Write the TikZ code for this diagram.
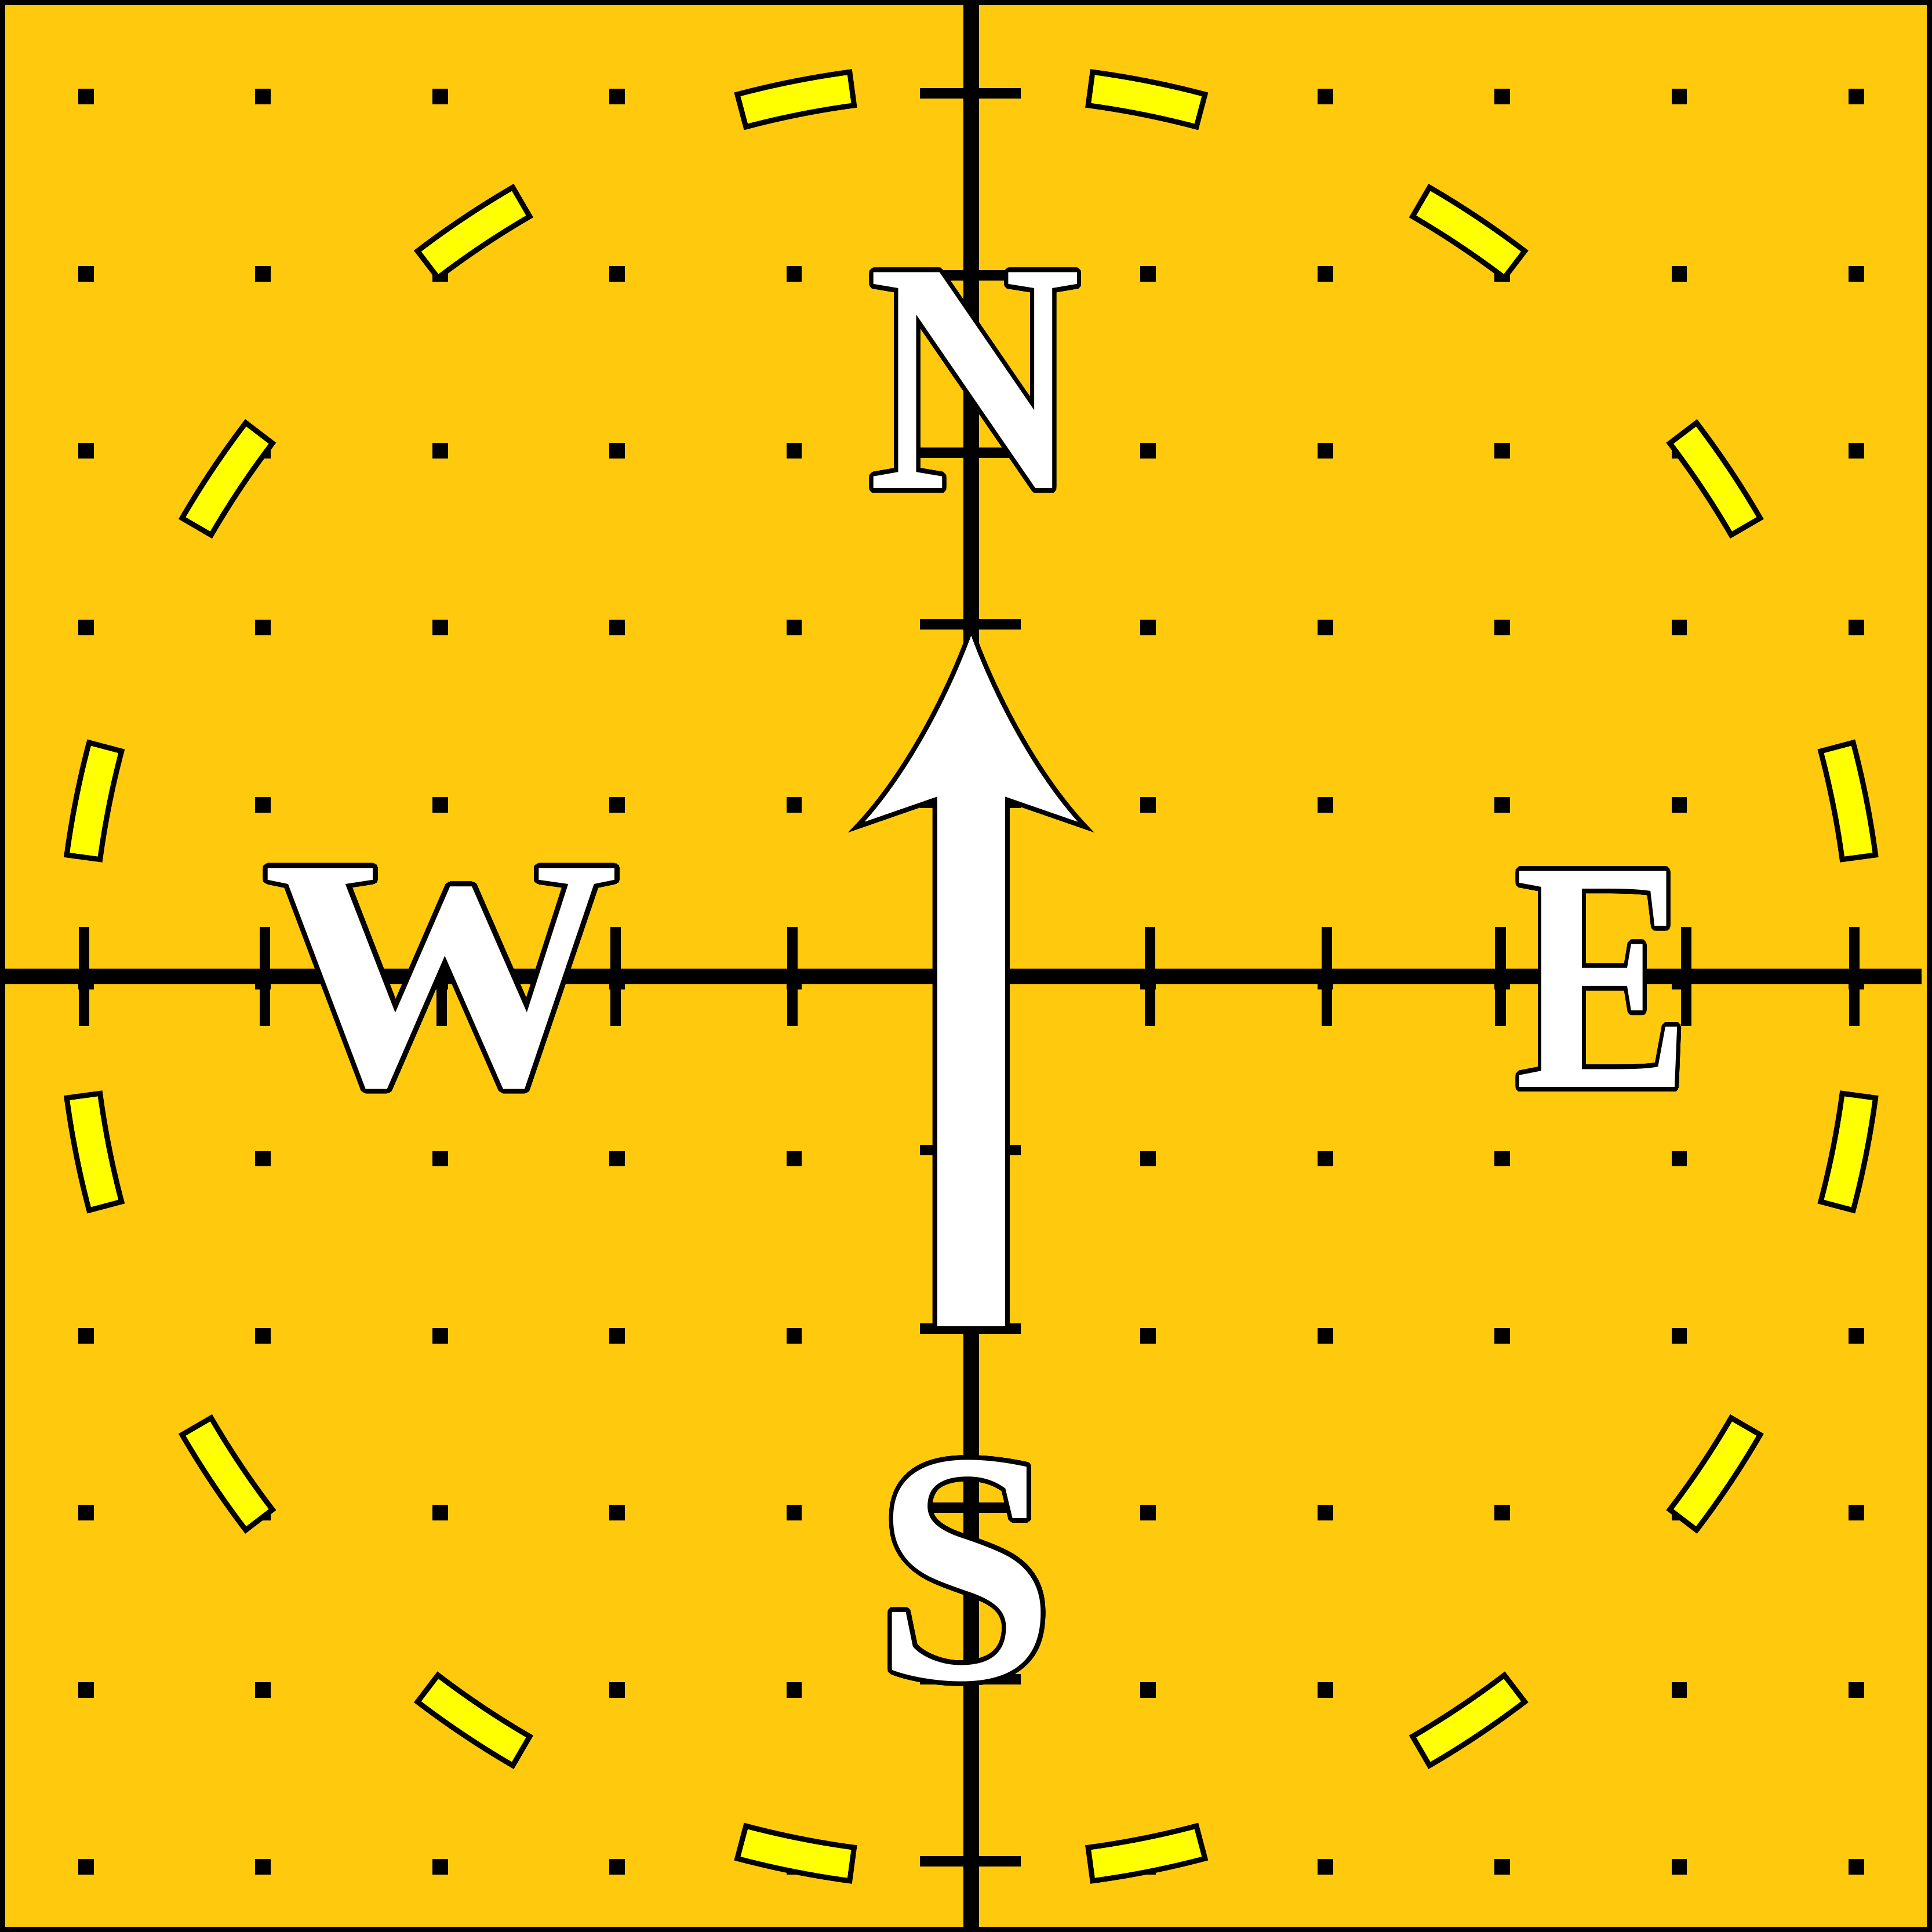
\documentclass[tikz,border=0pt]{standalone}
\usepackage{fontspec}
\setmainfont{Liberation Serif}
\usepackage{contour}
\contourlength{0.75pt}
\contournumber{32}
\definecolor{compassbg}{RGB}{255,202,14}
\definecolor{ringyellow}{RGB}{255,255,0}
\tikzstyle{compassframe}=[draw=black,fill=compassbg,line width=0.84pt]
\tikzstyle{dot}=[fill=black]
\tikzstyle{mainaxis}=[draw,line width=2.52pt]
\tikzstyle{axtick}=[draw,line width=1.68pt]
\tikzstyle{ringpiece}=[draw,fill=ringyellow,line width=0.84pt]
\tikzstyle{needle}=[draw,fill=white,line width=0.75pt,miter limit=25]
\tikzstyle{letter}=[inner sep=0pt,text=white,font=\fontsize{53}{53}\selectfont\bfseries]
\newcommand{\outlined}[2]{\scalebox{#1}[1]{\contour{black}{#2}}}

\begin{document}
\begin{tikzpicture}
    \useasboundingbox (-5.486,-5.398) rectangle (5.427,5.516);
    \draw[compassframe] (-5.471,-5.383) rectangle (5.412,5.501);
    \foreach \x in {-5,...,5}
      \foreach \y in {-5,...,5}
        \fill[dot] (\x-0.044,\y-0.074) rectangle (\x+0.044,\y+0.014);
    \foreach \a [evaluate=\a as \c using 11.25+22.5*\a] in {0,...,15}
      \draw[ringpiece] ({\c-3.6}:5.155) arc[start angle=\c-3.6,end angle=\c+3.6,radius=5.155]
        -- ({\c+3.6}:4.965) arc[start angle=\c+3.6,end angle=\c-3.6,radius=4.965] -- cycle;
    \draw[mainaxis] (-5.486,0) -- (5.368,0);
    \draw[mainaxis] (0,-5.398) -- (0,5.516);
    \foreach \x in {-5.01,-3.99,-2.99,-2.01,-1.01,1.01,2.01,2.99,4.04,4.99}
      \draw[axtick] (\x,-0.28) -- (\x,0.28);
    \foreach \y in {4.99,3.96,2.96,1.99,0.98,-0.98,-1.99,-3.0,-3.97,-5.0}
      \draw[axtick] (-0.29,\y) -- (0.28,\y);
    \draw[needle] (0,1.965) .. controls (-0.133,1.59) and (-0.378,1.128) .. (-0.649,0.843)
      -- (-0.205,0.997) -- (-0.205,-1.99) -- (0.205,-1.99) -- (0.205,0.997) -- (0.649,0.843)
      .. controls (0.378,1.128) and (0.133,1.59) .. cycle;
    \node[letter] (N) at (0.02,3.353) {\outlined{0.895}{N}};
    \node[letter] (W) at (-2.99,-0.025) {\outlined{1.084}{W}};
    \node[letter] (E) at (3.57,-0.03) {\outlined{0.8}{E}};
    \node[letter] (S) at (-0.034,-3.37) {\outlined{0.98}{S}};
\end{tikzpicture}
\end{document}
